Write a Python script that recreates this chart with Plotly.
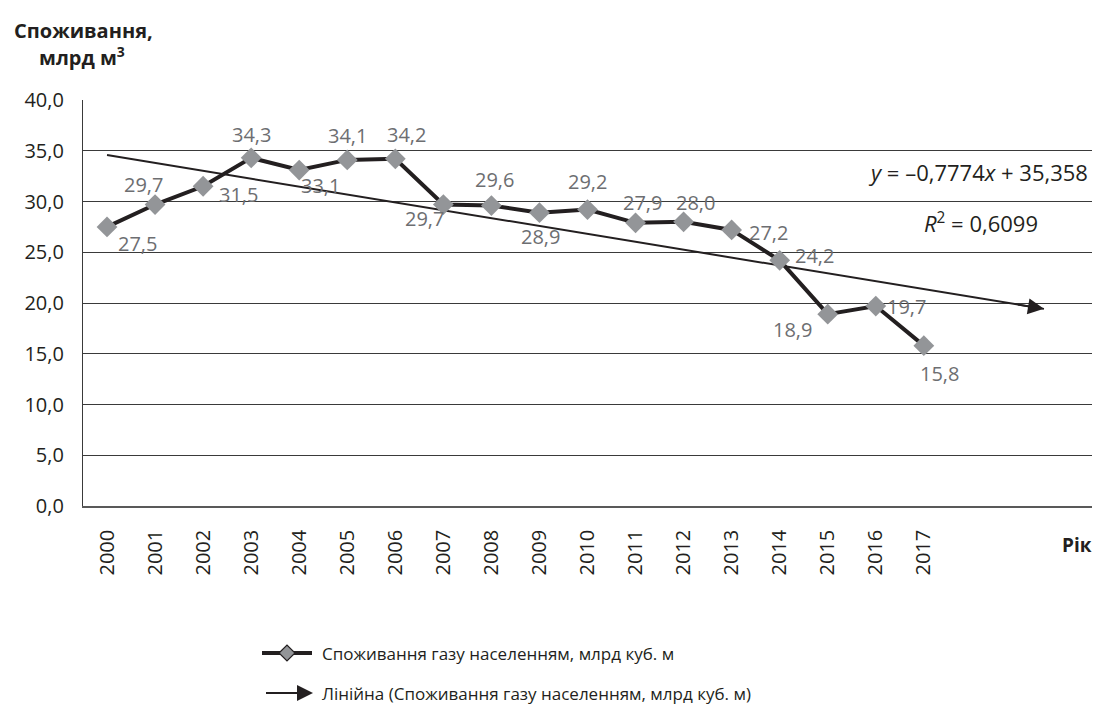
import plotly.graph_objects as go

years = [str(y) for y in range(2000, 2018)]
values = [27.5, 29.7, 31.5, 34.3, 33.1, 34.1, 34.2, 29.7, 29.6, 28.9, 29.2,
          27.9, 28.0, 27.2, 24.2, 18.9, 19.7, 15.8]
value_labels = ["27,5", "29,7", "31,5", "34,3", "33,1", "34,1", "34,2", "29,7", "29,6",
                "28,9", "29,2", "27,9", "28,0", "27,2", "24,2", "18,9", "19,7", "15,8"]
trend_slope = -0.7774
trend_intercept = 35.358
trend_forward = 2.5  # periods forecast forward
y_ticks = [0, 5, 10, 15, 20, 25, 30, 35, 40]

series_name = "Споживання газу населенням, млрд куб. м"
trend_name = "Лінійна (Споживання газу населенням, млрд куб. м)"

# label offsets in pixels (dx right, dy down)
label_offsets = [(30, 17), (-12, -20), (35, 8), (0, -23), (21, 15), (0, -24), (11, -24),
                 (-19, 14), (3, -26), (1, 24), (0, -28), (7, -20), (12, -19), (37, 3),
                 (35, -5), (-35, 15), (31, 0), (16, 28)]

FONT = "Open Sans"
DARK = "#231f20"
GRAY_TXT = "#6d6e71"
GRAY_MK = "#939598"

# plot area in pixels
L, R, T, B = 83, 1092, 100, 506
W, H = 1096, 711
def px(p):
    return (p - L) / (R - L)
def py(p):
    return (B - p) / (B - T)

xs = list(range(len(years)))
n = len(years)

fig = go.Figure()

# trend line
tx0 = 0
tx1 = n - 1 + trend_forward
def trend(x):
    return trend_intercept + trend_slope * (x + 1)
fig.add_trace(go.Scatter(
    x=[tx0, tx1], y=[trend(tx0), trend(tx1)], mode="lines",
    line=dict(color=DARK, width=2), showlegend=False, hoverinfo="skip"))

# data series
fig.add_trace(go.Scatter(
    x=xs, y=values, mode="lines+markers", name=series_name,
    line=dict(color=DARK, width=4),
    marker=dict(symbol="diamond", size=16, color=GRAY_MK, line=dict(width=0)),
    showlegend=False))

annotations = []
# arrow head on trend
back = 0.6
annotations.append(dict(
    x=tx1, y=trend(tx1), xref="x", yref="y",
    ax=tx1 - back, ay=trend(tx1 - back), axref="x", ayref="y",
    showarrow=True, arrowhead=2, arrowsize=1.6, arrowwidth=2, arrowcolor=DARK, text=" "))

for i, (v, lab) in enumerate(zip(values, value_labels)):
    dx, dy = label_offsets[i]
    annotations.append(dict(
        x=i, y=v, xref="x", yref="y", text=lab, showarrow=False,
        xshift=dx, yshift=-dy, font=dict(family=FONT, size=20, color=GRAY_TXT)))

# equation
annotations.append(dict(
    x=px(978), y=py(172), xref="paper", yref="paper", showarrow=False,
    text="<i>y</i> = –0,7774<i>x</i> + 35,358", xanchor="center", yanchor="middle",
    font=dict(family=FONT, size=22, color=DARK)))
annotations.append(dict(
    x=px(981), y=py(222), xref="paper", yref="paper", showarrow=False,
    text="<i>R</i><sup>2</sup> = 0,6099", xanchor="center", yanchor="middle",
    font=dict(family=FONT, size=22, color=DARK)))

# axis titles
annotations.append(dict(
    x=px(83), y=py(30), xref="paper", yref="paper", showarrow=False,
    text="<b>Споживання,</b>", xanchor="center", yanchor="middle",
    font=dict(family=FONT, size=20, color=DARK)))
annotations.append(dict(
    x=px(82), y=py(57), xref="paper", yref="paper", showarrow=False,
    text="<b>млрд м<sup>3</sup></b>", xanchor="center", yanchor="middle",
    font=dict(family=FONT, size=20, color=DARK)))
annotations.append(dict(
    x=px(1094), y=py(545), xref="paper", yref="paper", showarrow=False,
    text="<b>Рік</b>", xanchor="right", yanchor="middle",
    font=dict(family=FONT, size=19, color=DARK)))

# legend (custom)
leg_y1, leg_y2 = 653, 693
annotations.append(dict(
    x=px(320), y=py(leg_y1), xref="paper", yref="paper", showarrow=False,
    text=series_name, xanchor="left", yanchor="middle",
    font=dict(family=FONT, size=17, color=DARK)))
annotations.append(dict(
    x=px(320), y=py(leg_y2), xref="paper", yref="paper", showarrow=False,
    text=trend_name, xanchor="left", yanchor="middle",
    font=dict(family=FONT, size=17, color=DARK)))
annotations.append(dict(
    x=px(313), y=py(leg_y2), xref="paper", yref="paper",
    ax=-50, ay=0, showarrow=True, arrowhead=2, arrowsize=1.6, arrowwidth=2,
    arrowcolor=DARK, text=" "))

shapes = [
    dict(type="line", xref="paper", yref="paper", x0=px(262), x1=px(312),
         y0=py(leg_y1), y1=py(leg_y1), line=dict(color=DARK, width=4)),
    dict(type="path", xref="paper", yref="paper", xsizemode="pixel", ysizemode="pixel",
         xanchor=px(287), yanchor=py(leg_y1),
         path="M -8 0 L 0 8 L 8 0 L 0 -8 Z", fillcolor=GRAY_MK,
         line=dict(color=DARK, width=1.2)),
]

fig.update_layout(
    width=W, height=H,
    margin=dict(l=L, r=W - R, t=T, b=H - B),
    paper_bgcolor="white", plot_bgcolor="white",
    separators=", ",
    showlegend=False,
    annotations=annotations, shapes=shapes,
    xaxis=dict(range=[-0.5, n - 1 + 3.5], tickvals=xs, ticktext=years, tickangle=-90,
               showgrid=False, zeroline=False, showline=True, linecolor="#595959",
               linewidth=1.5, ticks="", ticklabelstandoff=14,
               tickfont=dict(family=FONT, size=20, color=DARK)),
    yaxis=dict(range=[0, 40], tickvals=y_ticks, tickformat=".1f",
               showgrid=True, gridcolor="#3a3a3a", gridwidth=1.2,
               zeroline=False, showline=True, linecolor="#3a3a3a", linewidth=1.2,
               ticks="", ticklabelstandoff=14,
               tickfont=dict(family=FONT, size=20, color=DARK)),
)

fig.write_html("out.html", config={"displayModeBar": False},
               post_script="document.body.style.margin='0';")
